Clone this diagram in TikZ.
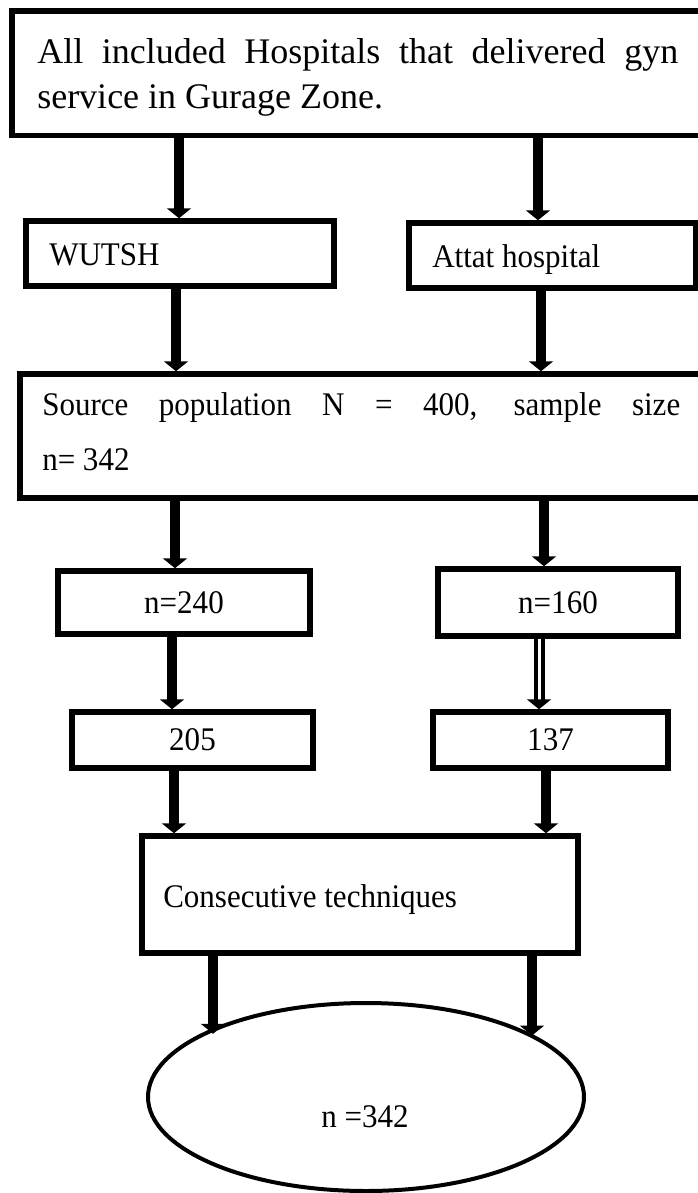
\documentclass[tikz,border=0pt]{standalone}
\usepackage{fontspec}
\setmainfont{Liberation Serif}
\newfontfamily\tallserif[FakeStretch=0.94]{Liberation Serif}
\usetikzlibrary{arrows.meta,shapes.geometric}
\newcommand\upx{0.75pt}
\newcommand\fsz{\tallserif\fontsize{24.75pt}{29pt}\selectfont}
\newcommand\fbig{\fontsize{27pt}{33pt}\selectfont}
\begin{document}
\begin{tikzpicture}[x=0.75pt,y=-0.75pt,
  box/.style={draw, rectangle, line width=4.1pt, inner sep=0pt, font=\fsz},
  txt/.style={inner sep=0pt, anchor=base west, font=\fsz},
  ctxt/.style={inner sep=0pt, anchor=base, font=\fsz},
  tip/.style={-{Triangle[length=7.5pt 0, width=18pt 0]}},
  arr/.style={line width=7.5pt, tip},
  dbl/.style={line width=3pt, double=white, double distance=2.25pt, tip},
]
\useasboundingbox (0,0) rectangle (698,1193);

% boxes
\node[box, minimum width=708*\upx, minimum height=124.5*\upx] (top) at (366,73.25) {};
\node[box, minimum width=308*\upx, minimum height=65*\upx] (wutsh) at (180,253.5) {};
\node[box, minimum width=287*\upx, minimum height=65*\upx] (attat) at (552.5,255.5) {};
\node[box, minimum width=700*\upx, minimum height=124*\upx] (source) at (370,436) {};
\node[box, minimum width=252*\upx, minimum height=63*\upx] (n240) at (184,602.5) {n=240};
\node[box, minimum width=240*\upx, minimum height=67*\upx] (n160) at (558,602.5) {n=160};
\node[box, minimum width=241*\upx, minimum height=56*\upx] (b205) at (192.5,740) {205};
\node[box, minimum width=235*\upx, minimum height=56*\upx] (b137) at (550.5,740) {137};
\node[box, minimum width=436*\upx, minimum height=117*\upx] (cons) at (360,894.5) {};
\node[draw, ellipse, line width=3pt, inner sep=0pt, minimum width=436*\upx, minimum height=188*\upx] (ell) at (366,1097) {};

% texts
\node[txt, font=\fbig] (topA) at (37,63) {\makebox[480.75pt][s]{All included Hospitals that delivered gyn}};
\node[txt, font=\fbig] (topB) at (37,108) {service in Gurage Zone.};
\node[txt] (wutshT) at (49,265) {WUTSH};
\node[txt] (attatT) at (432,267) {Attat hospital};
\node[txt] (srcA) at (42,415) {\makebox[478.5pt][s]{Source population N = 400, sample size}};
\node[txt] (srcB) at (42,470) {n= 342};
\node[txt] (consT) at (163,907) {Consecutive techniques};
\node[ctxt] (ellT) at (365,1127) {n =342};

% arrows
\draw[arr] (179,0 |- top.south) -- (179,0 |- wutsh.north);
\draw[arr] (538,0 |- top.south) -- (538,0 |- attat.north);
\draw[arr] (176,0 |- wutsh.south) -- (176,0 |- source.north);
\draw[arr] (541,0 |- attat.south) -- (541,0 |- source.north);
\draw[arr] (175,0 |- source.south) -- (175,0 |- n240.north);
\draw[arr] (544,0 |- source.south) -- (544,0 |- n160.north);
\draw[arr] (172,0 |- n240.south) -- (172,0 |- b205.north);
\draw[dbl] (539,0 |- n160.south) -- (539,0 |- b137.north);
\draw[arr] (174,0 |- b205.south) -- (174,0 |- cons.north);
\draw[arr] (546,0 |- b137.south) -- (546,0 |- cons.north);
\draw[arr, shorten >=-4pt] (213,0 |- cons.south) -- (213,0 |- ell.156);
\draw[arr] (532,0 |- cons.south) -- (532,0 |- ell.20);
\end{tikzpicture}
\end{document}
